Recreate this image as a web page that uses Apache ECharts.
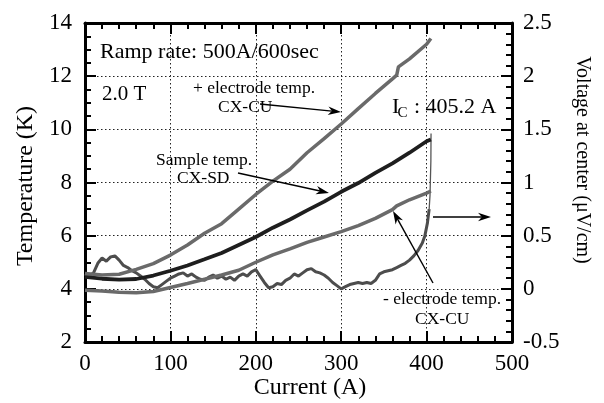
<!DOCTYPE html>
<html><head><meta charset="utf-8">
<script src="https://cdn.jsdelivr.net/npm/echarts@6/dist/echarts.min.js"></script>
<style>html,body{margin:0;padding:0;background:#fff}#c{width:604px;height:403px}</style>
</head><body><div id="c"></div>
<script>
// ---- data ----
const plusCurrent   = [0,20,40,60,80,100,120,140,160,180,200,220,240,260,280,300,320,340,360,365,367,380,400,405];
const plusTemp      = [4.58,4.52,4.55,4.73,4.95,5.27,5.65,6.09,6.45,7.0,7.55,8.05,8.5,9.12,9.65,10.2,10.78,11.35,11.9,12.04,12.35,12.65,13.2,13.42];

const sampleCurrent = [0,20,40,60,80,100,120,140,160,180,200,220,240,260,280,300,320,340,360,380,400,405];
const sampleTemp    = [4.45,4.38,4.35,4.37,4.5,4.68,4.88,5.11,5.35,5.65,5.95,6.3,6.61,6.95,7.28,7.65,7.98,8.36,8.72,9.12,9.55,9.62];

const minusCurrent  = [0,20,40,60,80,100,120,140,160,180,200,220,240,260,280,300,320,340,360,365,380,400,405];
const minusTemp     = [3.95,3.92,3.87,3.85,3.9,4.05,4.2,4.36,4.52,4.7,5.0,5.28,5.5,5.75,5.95,6.15,6.38,6.65,6.98,7.12,7.35,7.6,7.68];

const voltCurrent   = [0,5,10,15,20,25,30,35,40,45,50,55,60,65,70,75,80,85,90,95,100,105,110,115,120,125,130,135,140,145,150,155,160,165,170,175,180,185,190,195,200,205,210,215,220,225,230,235,240,245,250,255,260,265,270,275,280,285,290,295,300,305,310,315,320,325,330,335,340,345,350,355,360,365,370,375,380,385,390,395,398,401,403];
const voltValue     = [0.14,0.12,0.15,0.24,0.29,0.26,0.3,0.31,0.27,0.22,0.2,0.17,0.15,0.12,0.09,0.05,0.02,0.01,0.04,0.07,0.1,0.12,0.14,0.15,0.12,0.14,0.11,0.09,0.08,0.11,0.13,0.1,0.12,0.09,0.11,0.08,0.12,0.14,0.12,0.16,0.18,0.12,0.06,0.01,0.02,0.05,0.04,0.08,0.1,0.14,0.12,0.15,0.18,0.19,0.16,0.15,0.13,0.1,0.06,0.03,0.0,0.02,0.04,0.05,0.06,0.05,0.06,0.05,0.08,0.14,0.16,0.17,0.18,0.2,0.22,0.24,0.27,0.31,0.36,0.43,0.5,0.62,0.75];
const jumpCurrent   = [403,404,405,405.2];
const jumpValue     = [0.75,0.88,1.2,1.46];

const pairs = (xs, ys) => xs.map((x, i) => [x, ys[i]]);
const SERIF = 'Liberation Serif, Times New Roman, serif';

function arrow(x1, y1, x2, y2) {
  const a = Math.atan2(y2 - y1, x2 - x1), L = 13, W = 4.2;
  const c = Math.cos(a), s = Math.sin(a);
  const bx = x2 - L * c, by = y2 - L * s;
  const mx = x2 - L * 0.7 * c, my = y2 - L * 0.7 * s;
  return [
    {type: 'polyline', shape: {points: [[x1, y1], [mx, my]]}, style: {stroke: '#000', lineWidth: 1.4, fill: null}, z: 100},
    {type: 'polygon', shape: {points: [[x2, y2], [bx - W * s, by + W * c], [mx, my], [bx + W * s, by - W * c]]}, style: {fill: '#000'}, z: 100}
  ];
}
function txt(x, y, t, size) {
  return {type: 'text', x: x, y: y, z: 100,
    style: {text: t, fontFamily: SERIF, fontSize: size, fill: '#000', textAlign: 'left', textVerticalAlign: 'middle'}};
}
function mkAxis(grid, pos, min, max, interval, minorSplit, label, split) {
  return {
    type: 'value', gridIndex: grid, min: min, max: max, interval: interval, position: pos,
    axisLine: {show: true, onZero: false, lineStyle: {color: '#000', width: 3}},
    axisTick: {show: true, inside: true, length: 11, lineStyle: {color: '#000', width: 2}},
    minorTick: {show: true, splitNumber: minorSplit, length: 6, lineStyle: {color: '#000', width: 2}},
    axisLabel: label,
    splitLine: split ? {show: true, lineStyle: {color: '#222', width: 1, type: [1.5, 2.5]}} : {show: false}
  };
}
const lab = (margin) => ({show: true, fontFamily: SERIF, fontSize: 23, color: '#000', margin: margin});

const chart = echarts.init(document.getElementById('c'));
chart.setOption({
  animation: false,
  grid: [
    {left: 85, right: 92, top: 23, bottom: 61},
    {left: 85, right: 92, top: 23, bottom: 61}
  ],
  xAxis: [
    mkAxis(0, 'bottom', 0, 500, 100, 5, lab(10), true),
    mkAxis(1, 'top', 0, 500, 100, 5, {show: false}, false)
  ],
  yAxis: [
    mkAxis(0, 'left', 2, 14, 2, 4, lab(13), true),
    mkAxis(1, 'right', -0.5, 2.5, 0.5, 5, lab(11), false)
  ],
  series: [
    {name: 'Voltage', type: 'line', xAxisIndex: 1, yAxisIndex: 1, data: pairs(voltCurrent, voltValue),
     symbol: 'none', lineStyle: {color: '#4d4d4d', width: 3}},
    {name: 'Voltage jump', type: 'line', xAxisIndex: 1, yAxisIndex: 1, data: pairs(jumpCurrent, jumpValue),
     symbol: 'none', lineStyle: {color: '#555', width: 1.3}},
    {name: '- electrode', type: 'line', xAxisIndex: 0, yAxisIndex: 0, data: pairs(minusCurrent, minusTemp),
     symbol: 'none', lineStyle: {color: '#6a6a6a', width: 3.5}},
    {name: 'Sample', type: 'line', xAxisIndex: 0, yAxisIndex: 0, data: pairs(sampleCurrent, sampleTemp),
     symbol: 'none', lineStyle: {color: '#1e1e1e', width: 3.8}},
    {name: '+ electrode', type: 'line', xAxisIndex: 0, yAxisIndex: 0, data: pairs(plusCurrent, plusTemp),
     symbol: 'none', lineStyle: {color: '#6a6a6a', width: 3.5}}
  ]
});
chart.setOption({
  graphic: [
    txt(100, 52, 'Ramp rate: 500A/600sec', 22),
    txt(102, 94, '2.0 T', 21),
    txt(193, 88, '+ electrode temp.', 17.5),
    txt(218, 107, 'CX-CU', 17.5),
    txt(156, 160, 'Sample temp.', 17.5),
    txt(177, 178, 'CX-SD', 17.5),
    txt(392, 107, 'I', 22),
    txt(397.5, 113, 'C', 15),
    txt(414, 107, ': 405.2 A', 22),
    txt(383, 299, '- electrode temp.', 17.5),
    txt(415, 319, 'CX-CU', 17.5),
    ...arrow(260, 104, 341, 112),
    ...arrow(238, 173, 329, 193),
    ...arrow(433, 283, 393, 211),
    ...arrow(433, 217, 491, 217),
    {type: 'text', x: 26, y: 186, rotation: Math.PI / 2, z: 100,
     style: {text: 'Temperature (K)', fontFamily: SERIF, fontSize: 24, fill: '#000', textAlign: 'center', textVerticalAlign: 'middle'}},
    {type: 'text', x: 582, y: 160, rotation: -Math.PI / 2, z: 100,
     style: {text: 'Voltage at center (μV/cm)', fontFamily: SERIF, fontSize: 20, fill: '#000', textAlign: 'center', textVerticalAlign: 'middle'}},
    {type: 'text', x: 310, y: 388, z: 100,
     style: {text: 'Current (A)', fontFamily: SERIF, fontSize: 24, fill: '#000', textAlign: 'center', textVerticalAlign: 'middle'}}
  ]
});
</script></body></html>
